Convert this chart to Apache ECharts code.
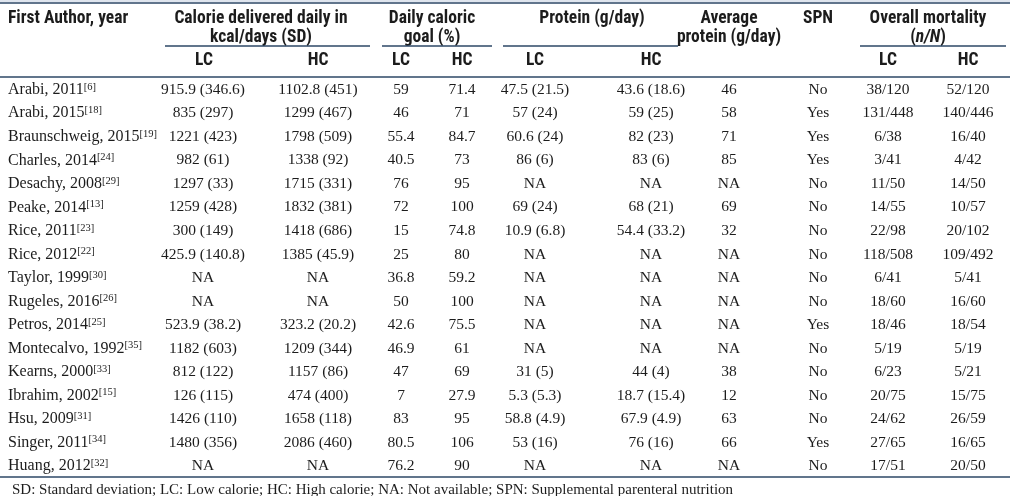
<!DOCTYPE html>
<html>
<head>
<meta charset="utf-8">
<script src="https://cdn.jsdelivr.net/npm/echarts@6/dist/echarts.min.js"></script>
<style>
html,body{margin:0;padding:0;background:#fff;}
#chart{width:1010px;height:496px;}
</style>
</head>
<body>
<div id="chart"></div>
<script>
// ---------- DATA ----------
const authors = ['Arabi, 2011','Arabi, 2015','Braunschweig, 2015','Charles, 2014','Desachy, 2008','Peake, 2014','Rice, 2011','Rice, 2012','Taylor, 1999','Rugeles, 2016','Petros, 2014','Montecalvo, 1992','Kearns, 2000','Ibrahim, 2002','Hsu, 2009','Singer, 2011','Huang, 2012'];
const refs = ['6','18','19','24','29','13','23','22','30','26','25','35','33','15','31','34','32'];
const calorieLC = ['915.9 (346.6)','835 (297)','1221 (423)','982 (61)','1297 (33)','1259 (428)','300 (149)','425.9 (140.8)','NA','NA','523.9 (38.2)','1182 (603)','812 (122)','126 (115)','1426 (110)','1480 (356)','NA'];
const calorieHC = ['1102.8 (451)','1299 (467)','1798 (509)','1338 (92)','1715 (331)','1832 (381)','1418 (686)','1385 (45.9)','NA','NA','323.2 (20.2)','1209 (344)','1157 (86)','474 (400)','1658 (118)','2086 (460)','NA'];
const goalLC = ['59','46','55.4','40.5','76','72','15','25','36.8','50','42.6','46.9','47','7','83','80.5','76.2'];
const goalHC = ['71.4','71','84.7','73','95','100','74.8','80','59.2','100','75.5','61','69','27.9','95','106','90'];
const proteinLC = ['47.5 (21.5)','57 (24)','60.6 (24)','86 (6)','NA','69 (24)','10.9 (6.8)','NA','NA','NA','NA','NA','31 (5)','5.3 (5.3)','58.8 (4.9)','53 (16)','NA'];
const proteinHC = ['43.6 (18.6)','59 (25)','82 (23)','83 (6)','NA','68 (21)','54.4 (33.2)','NA','NA','NA','NA','NA','44 (4)','18.7 (15.4)','67.9 (4.9)','76 (16)','NA'];
const avgProtein = ['46','58','71','85','NA','69','32','NA','NA','NA','NA','NA','38','12','63','66','NA'];
const spn = ['No','Yes','Yes','Yes','No','No','No','No','No','No','Yes','No','No','No','No','Yes','No'];
const mortalityLC = ['38/120','131/448','6/38','3/41','11/50','14/55','22/98','118/508','6/41','18/60','18/46','5/19','6/23','20/75','24/62','27/65','17/51'];
const mortalityHC = ['52/120','140/446','16/40','4/42','14/50','10/57','20/102','109/492','5/41','16/60','18/54','5/19','5/21','15/75','26/59','16/65','20/50'];
const groupHeaders = ['First Author, year','Calorie delivered daily in\nkcal/days (SD)','Daily caloric\ngoal (%)','Protein (g/day)','Average\nprotein (g/day)','SPN','Overall mortality\n(n/N)'];
const subHeaders = ['LC','HC','LC','HC','LC','HC','LC','HC'];
const footnote = 'SD: Standard deviation; LC: Low calorie; HC: High calorie; NA: Not available; SPN: Supplemental parenteral nutrition';

// ---------- LAYOUT (pixels / styles) ----------
const COL_X = [203, 318, 401, 462, 535, 651, 729, 818, 888, 968];      // centres of data columns
const GROUP_X = [8, 261, 432, 592, 729, 818, 928];
const GROUP_ALIGN = ['left','center','center','center','center','center','center'];
const SUB_X = [204, 318, 401, 462, 535, 651, 888, 968];
const UNDERLINES = [[165,370],[382,492],[503,678],[860,1006]];
const LINE_COLOR = '#2c4766';
const HEAD_FONT = '"Liberation Sans Narrow","Roboto Condensed","DejaVu Sans Condensed",sans-serif';
const BODY_FONT = '"Liberation Serif","Times New Roman",serif';
const TEXT_COLOR = '#1c1c1c';
const HEAD_SIZE = 17.5;
const BODY_SIZE = 15.5;

const columns = [calorieLC, calorieHC, goalLC, goalHC, proteinLC, proteinHC, avgProtein, spn, mortalityLC, mortalityHC];
const cellData = [];
columns.forEach((col, c) => col.forEach((t, r) => cellData.push({ value: [c, r], text: t })));

const headerData = [];
groupHeaders.forEach((t, i) => headerData.push({ value: [i, 0], kind: 'group', text: t }));
subHeaders.forEach((t, i) => headerData.push({ value: [i, 1], kind: 'sub', text: t }));
UNDERLINES.forEach((u, i) => headerData.push({ value: [i, 2], kind: 'line' }));

const chart = echarts.init(document.getElementById('chart'), null, { renderer: 'canvas' });

chart.setOption({
  animation: false,
  backgroundColor: '#ffffff',
  title: {
    text: footnote,
    left: 7, top: 478,
    textStyle: { fontFamily: BODY_FONT, fontSize: 15, fontWeight: 'normal', color: TEXT_COLOR }
  },
  graphic: [{
    type: 'rect', shape: { x: 0, y: 0, width: 1010, height: 2 },
    style: { fill: '#dfe5ee' }, silent: true
  }],
  grid: [
    { left: 0, right: 0, top: 77, height: 400, containLabel: false },
    { left: 0, right: 0, top: 3, height: 74, containLabel: false }
  ],
  xAxis: [
    { gridIndex: 0, type: 'value', min: 0, max: 1010, position: 'bottom',
      axisLine: { show: true, lineStyle: { color: LINE_COLOR, width: 1.5 } },
      axisTick: { show: false }, axisLabel: { show: false }, splitLine: { show: false } },
    { gridIndex: 0, type: 'value', min: 0, max: 1010, position: 'top',
      axisLine: { show: true, lineStyle: { color: LINE_COLOR, width: 1.5 } },
      axisTick: { show: false }, axisLabel: { show: false }, splitLine: { show: false } },
    { gridIndex: 1, type: 'value', min: 0, max: 1010, position: 'top',
      axisLine: { show: true, lineStyle: { color: LINE_COLOR, width: 1.5 } },
      axisTick: { show: false }, axisLabel: { show: false }, splitLine: { show: false } }
  ],
  yAxis: [
    { gridIndex: 0, type: 'category', data: authors, inverse: true,
      axisLine: { show: false }, axisTick: { show: false }, splitLine: { show: false },
      axisLabel: {
        inside: true, margin: 8, align: 'left', padding: [2, 0, 0, 0],
        formatter: (v, i) => '{a|' + v + '}{s|[' + refs[i] + ']}',
        rich: {
          a: { fontFamily: BODY_FONT, fontSize: 16, color: TEXT_COLOR, lineHeight: 17 },
          s: { fontFamily: BODY_FONT, fontSize: 10.5, color: TEXT_COLOR, lineHeight: 12, verticalAlign: 'top' }
        }
      } },
    { gridIndex: 1, type: 'value', min: 0, max: 74, inverse: true, show: false }
  ],
  series: [
    {
      type: 'custom', xAxisIndex: 0, yAxisIndex: 0, silent: true,
      data: cellData.map(d => d.value),
      renderItem: function (params, api) {
        const d = cellData[params.dataIndex];
        const p = api.coord([COL_X[d.value[0]], d.value[1]]);
        return { type: 'text', x: p[0], y: p[1] + 1,
          style: { text: d.text, align: 'center', verticalAlign: 'middle',
            fontFamily: BODY_FONT, fontSize: BODY_SIZE, fill: TEXT_COLOR } };
      }
    },
    {
      type: 'custom', xAxisIndex: 2, yAxisIndex: 1, silent: true,
      data: headerData.map(d => d.value),
      renderItem: function (params, api) {
        const d = headerData[params.dataIndex];
        const i = d.value[0];
        if (d.kind === 'line') {
          const a = api.coord([UNDERLINES[i][0], 43]);
          const b = api.coord([UNDERLINES[i][1], 43]);
          return { type: 'line', shape: { x1: a[0], y1: a[1], x2: b[0], y2: b[1] },
            style: { stroke: LINE_COLOR, lineWidth: 1.5 } };
        }
        if (d.kind === 'sub') {
          const p = api.coord([SUB_X[i], 58]);
          return { type: 'text', x: p[0], y: p[1],
            style: { text: d.text, align: 'center', verticalAlign: 'middle',
              fontFamily: HEAD_FONT, fontWeight: 'bold', fontSize: HEAD_SIZE, fill: TEXT_COLOR } };
        }
        const p = api.coord([GROUP_X[i], 6.5]);
        const txt = d.text.split('\n').map(line =>
          line.indexOf('n/N') >= 0 ? '{b|(}{i|n/N}{b|)}' : '{b|' + line + '}').join('\n');
        return { type: 'text', x: p[0], y: p[1],
          style: { text: txt, align: GROUP_ALIGN[i], verticalAlign: 'top',
            rich: {
              b: { fontFamily: HEAD_FONT, fontWeight: 'bold', fontSize: HEAD_SIZE, lineHeight: 19, fill: TEXT_COLOR, align: GROUP_ALIGN[i] },
              i: { fontFamily: HEAD_FONT, fontWeight: 'bold', fontStyle: 'italic', fontSize: HEAD_SIZE, lineHeight: 19, fill: TEXT_COLOR }
            } } };
      }
    }
  ]
});
</script>
</body>
</html>
